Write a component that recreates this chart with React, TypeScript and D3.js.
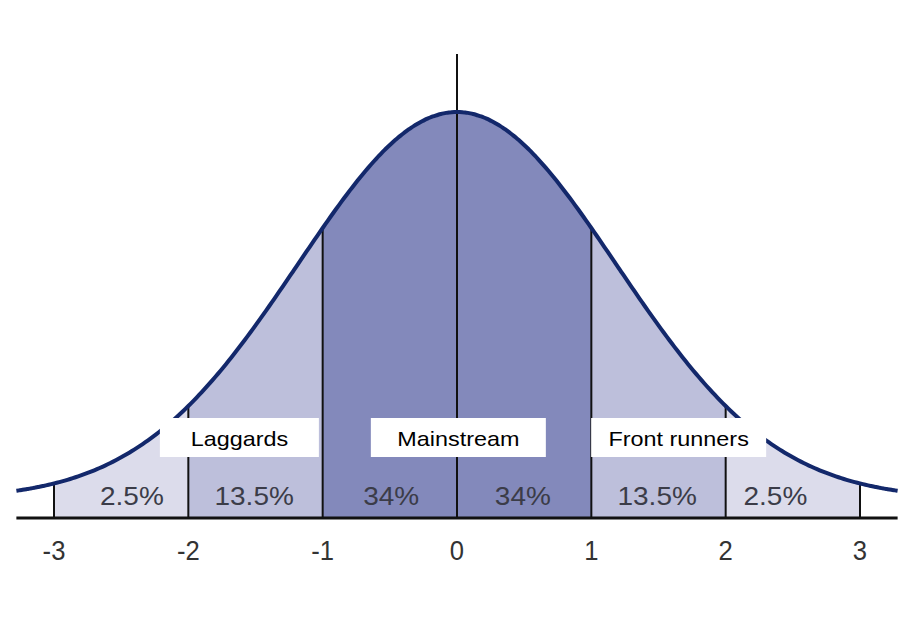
import React from 'react';
import * as d3 from 'd3';

// band edges in standard deviations and the share of each band
const bandEdges = [-3, -2, -1, 0, 1, 2, 3];
const bandShares = ['2.5%', '13.5%', '34%', '34%', '13.5%', '2.5%'];
const tickValues = [-3, -2, -1, 0, 1, 2, 3];
const groupNames = ['Laggards', 'Mainstream', 'Front runners'];

// layout (not data)
const W = 912;
const H = 636;
const shareLabelX = [-2.42, -1.51, -0.49, 0.49, 1.49, 2.37];
const groupBoxX = [-1.62, 0.01, 1.65];
const groupBoxW = [159, 175, 175];
const bandColors = ['#dcdceb', '#bdbfdb', '#8389bb', '#8389bb', '#bdbfdb', '#dcdceb'];
const curveSigma = 1.185;
const curveSpan = 3.28;

const x = d3.scaleLinear().domain([-3, 3]).range([54, 860]);
// 0 on the curve sits a bit above the axis line
const y = d3.scaleLinear().domain([-0.0486, 1]).range([518, 112]);
const axisY = y(-0.0486);

const shape = (v: number) => Math.exp(-(v * v) / (2 * curveSigma * curveSigma));

function App() {
  const samples = d3.range(-curveSpan, curveSpan + 0.001, 0.02);

  const line = d3
    .line<number>()
    .x((d) => x(d))
    .y((d) => y(shape(d)))
    .curve(d3.curveBasis);

  const area = d3
    .area<number>()
    .x((d) => x(d))
    .y0(axisY)
    .y1((d) => y(shape(d)));

  const bands = bandShares.map((s, i) => {
    const lo = bandEdges[i];
    const hi = bandEdges[i + 1];
    const pts = d3.range(lo, hi, 0.02).concat([hi]);
    return { lo, hi, pts, share: s, color: bandColors[i], lx: shareLabelX[i] };
  });

  const font = 'Arial, "Liberation Sans", Helvetica, sans-serif';

  return (
    <svg width={W} height={H} style={{ position: 'absolute', left: 0, top: 0, background: '#fff' }}>
      {bands.map((b, i) => (
        <path key={'band' + i} d={area(b.pts) || ''} fill={b.color} />
      ))}

      {/* dividers up to the curve */}
      {tickValues.map((t) => (
        <line
          key={'div' + t}
          x1={x(t)}
          x2={x(t)}
          y1={axisY}
          y2={t === 0 ? y(1.15) : y(shape(t))}
          stroke="#111"
          strokeWidth={2}
        />
      ))}

      <path d={line(samples) || ''} fill="none" stroke="#13286b" strokeWidth={4} />

      <line x1={x(-curveSpan)} x2={x(curveSpan)} y1={axisY} y2={axisY} stroke="#111" strokeWidth={3} />

      {bands.map((b, i) => (
        <text
          key={'share' + i}
          transform={`translate(${x(b.lx)},505) scale(1.12,1)`}
          textAnchor="middle"
          fontFamily={font}
          fontSize={25}
          fill="#3b3c48"
        >
          {b.share}
        </text>
      ))}

      {tickValues.map((t) => (
        <text
          key={'tick' + t}
          transform={`translate(${x(t)},560) scale(0.95,1)`}
          textAnchor="middle"
          fontFamily={font}
          fontSize={27}
          fill="#333"
        >
          {t}
        </text>
      ))}

      {groupNames.map((g, i) => (
        <g key={g}>
          <rect x={x(groupBoxX[i]) - groupBoxW[i] / 2} y={418} width={groupBoxW[i]} height={39} fill="#fff" />
          <text
            transform={`translate(${x(groupBoxX[i])},446) scale(1.17,1)`}
            textAnchor="middle"
            fontFamily={font}
            fontSize={20}
            fill="#000"
          >
            {g}
          </text>
        </g>
      ))}
    </svg>
  );
}

export default App;
